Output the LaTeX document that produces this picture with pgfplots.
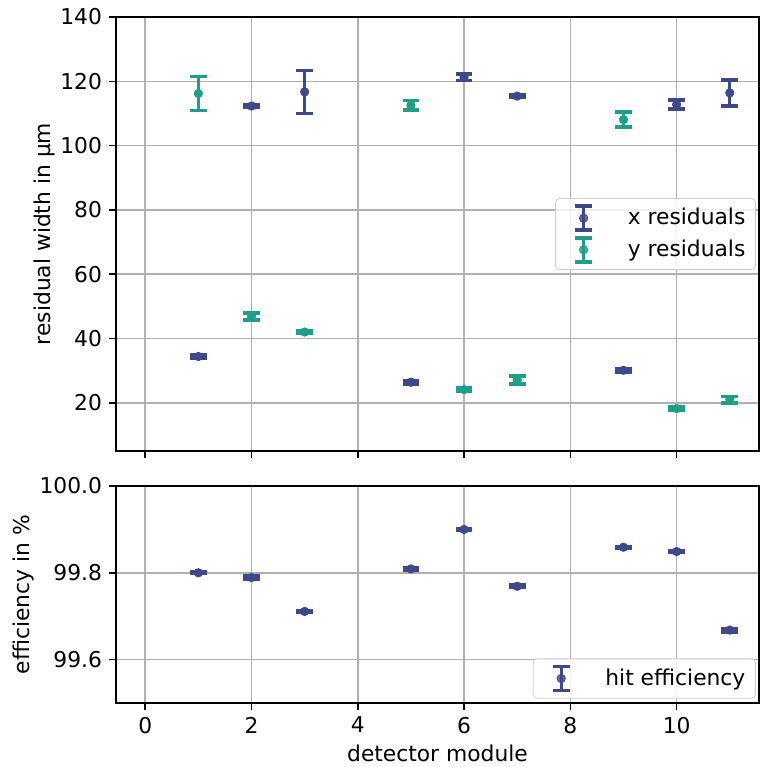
\documentclass[border=0pt]{standalone}
\usepackage{fontspec}
\setmainfont{DejaVu Sans}
\usepackage{pgfplots}
\pgfplotsset{compat=1.18}
\usepackage{pgfplotstable}
\definecolor{cx}{HTML}{3E4989}
\definecolor{cy}{HTML}{1F9E89}
\definecolor{gridgray}{HTML}{B0B0B0}

\pgfplotstableread{
x y e
1 34.4 0.4
2 112.3 0.5
3 116.7 6.7
5 26.4 0.5
6 121.2 1.0
7 115.4 0.5
9 30.1 0.5
10 112.8 1.4
11 116.4 4.0
}\xres
\pgfplotstableread{
x y e
1 116.2 5.3
2 46.9 1.1
3 42.0 0.5
5 112.5 1.5
6 24.1 0.5
7 27.1 1.3
9 108.1 2.4
10 18.2 0.5
11 21.0 1.0
}\yres
\pgfplotstableread{
x y e
1 99.800 0.002
2 99.789 0.003
3 99.711 0.002
5 99.809 0.002
6 99.900 0.002
7 99.769 0.003
9 99.859 0.002
10 99.849 0.002
11 99.668 0.004
}\eff

\newcommand{\fs}{\fontsize{10.9}{13}\selectfont}
\pgfplotsset{
  common/.style={
    scale only axis, width=321.5pt,
    xmin=-0.55, xmax=11.55,
    xtick={0,2,...,10},
    grid=major, grid style={gridgray, line width=0.8pt},
    axis line style={line width=0.8pt},
    tick align=outside, tick style={black, line width=0.8pt}, major tick length=3.5pt,
    xtick pos=lower, ytick pos=left,
    /pgf/number format/assume math mode=true,
    tick label style={font=\fs},
    label style={font=\fs},
    ylabel style={yshift=-4pt},
    legend cell align=left,
    legend style={font=\fs, draw=black!20, rounded corners=2pt, fill=white, fill opacity=0.8, text opacity=1,
      inner xsep=3pt, inner ysep=3pt, row sep=2pt},
  },
  eleg/.style={legend image code/.code={
    \path[draw=none] (-11pt,0pt) -- (2pt,0pt);
    \draw[#1, line width=1.4pt] (0pt,-6pt) -- (0pt,6pt);
    \draw[#1, line width=1.8pt] (-4.2pt,6pt) -- (4.2pt,6pt);
    \draw[#1, line width=1.8pt] (-4.2pt,-6pt) -- (4.2pt,-6pt);
    \fill[#1] (0pt,0pt) circle (2.1pt);}},
  ebar/.style={eleg=#1, only marks, mark=*, mark size=2.1pt, color=#1, mark options={fill=#1, draw=#1},
    error bars/.cd, y dir=both, y explicit,
    error bar style={line width=1.4pt, #1},
    error mark options={#1, line width=1.8pt, mark size=4.2pt, rotate=90}},
}

\begin{document}
\begin{tikzpicture}
\begin{axis}[common, height=217pt, at={(0,0)}, anchor=north west,
  ymin=5, ymax=140, ytick={20,40,...,140}, xticklabels={},
  ylabel={residual width in µm},
  legend style={at={(0.995,0.5)}, anchor=east}]
\addplot[ebar=cx] table[x=x, y=y, y error=e] {\xres};
\addlegendentry{\hspace*{15pt}x residuals}
\addplot[ebar=cy] table[x=x, y=y, y error=e] {\yres};
\addlegendentry{\hspace*{15pt}y residuals}
\end{axis}
\begin{axis}[common, height=108.5pt, at={(0,-234.5pt)}, anchor=north west,
  ymin=99.5, ymax=100, ytick={99.6,99.8,100},
  yticklabel style={/pgf/number format/.cd, fixed, precision=1, fixed zerofill},
  xlabel={detector module}, ylabel={efficiency in \%},
  xlabel style={yshift=1pt},
  legend style={at={(0.995,0.02)}, anchor=south east}]
\addplot[ebar=cx] table[x=x, y=y, y error=e] {\eff};
\addlegendentry{\hspace*{15pt}hit efficiency}
\end{axis}
\pgfresetboundingbox
\useasboundingbox (-58pt,8.5pt) rectangle (322pt,-375pt);
\end{tikzpicture}
\end{document}
